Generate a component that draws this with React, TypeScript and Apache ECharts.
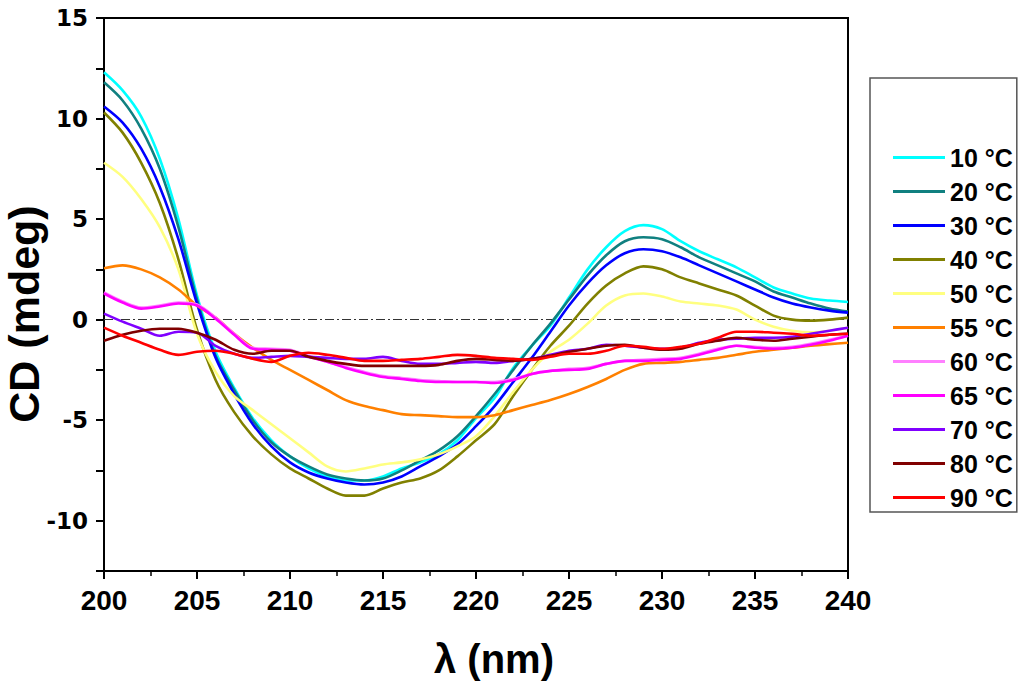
import React, { useEffect, useRef } from "react";
import * as echarts from "echarts";

const wavelengths = [200,201,202,203,204,205,206,207,208,209,210,211,212,213,214,215,216,217,218,219,220,221,222,223,224,225,226,227,228,229,230,231,232,233,234,235,236,237,238,239,240];

const seriesNames = ["10 °C","20 °C","30 °C","40 °C","50 °C","55 °C","60 °C","65 °C","70 °C","80 °C","90 °C"];
const seriesColors = ["#00FFFF","#108080","#0000FF","#808000","#FFFF80","#FF8000","#FF80FF","#FF00FF","#8000FF","#800000","#FF0000"];

const xTitle = "λ (nm)";
const yTitle = "CD (mdeg)";

const cd10 = [12.3,11.4,10.1,8.0,5.0,1.2,-1.6,-3.4,-4.9,-6.0,-6.8,-7.4,-7.8,-8.0,-8.0,-7.8,-7.4,-7.1,-6.7,-6.0,-4.9,-3.9,-2.4,-1.3,-0.3,1.1,2.5,3.6,4.4,4.7,4.5,3.9,3.4,3.0,2.6,2.1,1.6,1.3,1.05,0.95,0.88];
const cd20 = [11.8,10.9,9.5,7.5,4.6,1.0,-1.8,-3.5,-5.0,-6.1,-6.8,-7.3,-7.7,-7.9,-8.0,-7.9,-7.5,-7.0,-6.5,-5.8,-4.8,-3.7,-2.5,-1.3,-0.2,1.0,2.2,3.2,3.9,4.1,4.0,3.6,3.1,2.7,2.3,1.9,1.4,1.1,0.8,0.55,0.4];
const cd30 = [10.6,9.8,8.5,6.6,4.0,0.8,-1.9,-3.7,-5.2,-6.3,-7.1,-7.6,-7.9,-8.1,-8.2,-8.1,-7.8,-7.3,-6.8,-6.2,-5.3,-4.3,-3.1,-1.9,-0.6,0.7,1.8,2.7,3.3,3.5,3.4,3.1,2.7,2.3,1.9,1.5,1.1,0.8,0.6,0.45,0.35];
const cd40 = [10.3,9.3,7.8,5.8,3.0,-0.5,-3.0,-4.6,-5.8,-6.7,-7.4,-7.9,-8.4,-8.75,-8.75,-8.4,-8.1,-7.9,-7.5,-6.8,-6.0,-5.2,-3.8,-2.5,-1.3,-0.3,0.8,1.7,2.3,2.65,2.5,2.1,1.8,1.5,1.2,0.7,0.2,0.0,-0.05,0.0,0.1];
const cd50 = [7.8,7.1,6.0,4.6,2.5,-0.7,-2.6,-3.8,-4.5,-5.2,-5.9,-6.6,-7.3,-7.55,-7.4,-7.2,-7.1,-6.95,-6.7,-6.3,-5.8,-4.8,-3.6,-2.5,-1.6,-1.0,-0.2,0.7,1.2,1.3,1.15,0.9,0.8,0.7,0.5,0.0,-0.35,-0.55,-0.63,-0.55,-0.4];
const cd55 = [2.55,2.7,2.5,2.1,1.5,0.7,0.1,-0.7,-1.4,-2.0,-2.5,-3.0,-3.5,-4.0,-4.3,-4.5,-4.7,-4.75,-4.8,-4.85,-4.85,-4.75,-4.5,-4.25,-4.0,-3.7,-3.35,-2.95,-2.5,-2.2,-2.15,-2.1,-2.0,-1.9,-1.75,-1.6,-1.5,-1.4,-1.3,-1.22,-1.15];
const cd60 = [1.35,0.9,0.6,0.7,0.85,0.75,0.1,-0.7,-1.4,-1.45,-1.5,-1.8,-2.1,-2.35,-2.6,-2.8,-2.9,-3.0,-3.05,-3.1,-3.1,-3.1,-2.95,-2.7,-2.55,-2.45,-2.4,-2.2,-2.05,-2.0,-1.95,-1.9,-1.7,-1.45,-1.3,-1.35,-1.4,-1.35,-1.2,-1.0,-0.8];
const cd65 = [1.3,0.85,0.55,0.65,0.8,0.7,0.05,-0.75,-1.45,-1.5,-1.55,-1.85,-2.1,-2.4,-2.65,-2.85,-2.95,-3.05,-3.1,-3.1,-3.1,-3.15,-3.0,-2.7,-2.55,-2.5,-2.45,-2.2,-2.05,-2.05,-2.0,-1.95,-1.75,-1.5,-1.3,-1.4,-1.45,-1.4,-1.25,-1.05,-0.8];
const cd70 = [0.3,-0.1,-0.45,-0.8,-0.6,-0.65,-1.3,-1.7,-1.9,-1.85,-1.8,-1.85,-1.9,-1.95,-1.95,-1.85,-2.05,-2.2,-2.2,-2.15,-2.1,-2.15,-2.05,-1.95,-1.75,-1.55,-1.45,-1.25,-1.3,-1.4,-1.45,-1.4,-1.15,-1.0,-0.95,-0.9,-0.9,-0.85,-0.7,-0.55,-0.4];
const cd80 = [-1.05,-0.75,-0.55,-0.45,-0.45,-0.65,-1.0,-1.5,-1.7,-1.55,-1.55,-1.85,-2.05,-2.2,-2.3,-2.3,-2.3,-2.3,-2.25,-2.05,-1.95,-2.0,-2.05,-1.95,-1.8,-1.6,-1.45,-1.3,-1.25,-1.4,-1.5,-1.45,-1.2,-1.05,-0.9,-1.0,-1.05,-0.95,-0.85,-0.75,-0.7];
const cd90 = [-0.4,-0.8,-1.15,-1.5,-1.75,-1.6,-1.55,-1.7,-1.95,-2.1,-1.8,-1.65,-1.75,-1.9,-2.05,-2.05,-2.0,-1.95,-1.85,-1.75,-1.8,-1.9,-1.95,-2.0,-1.85,-1.7,-1.7,-1.55,-1.3,-1.35,-1.45,-1.35,-1.2,-0.9,-0.6,-0.6,-0.65,-0.7,-0.8,-0.75,-0.7];

const seriesValues = [cd10, cd20, cd30, cd40, cd50, cd55, cd60, cd65, cd70, cd80, cd90];

const FONT = "'Liberation Sans', Arial, sans-serif";
const WIDE_FONT = "'DejaVu Sans', 'Liberation Sans', sans-serif";

export default function App() {
  const ref = useRef<HTMLDivElement>(null);
  useEffect(() => {
    if (!ref.current) return;
    const chart = echarts.init(ref.current, null, { renderer: "svg" });
    const series: any[] = seriesValues.map((vals, si) => ({
      name: seriesNames[si],
      type: "line",
      data: wavelengths.map((w, i) => [w, vals[i]]),
      showSymbol: false,
      smooth: 0.3,
      lineStyle: { color: seriesColors[si], width: 2.6 },
      itemStyle: { color: seriesColors[si] },
      z: 3 + si,
    }));
    series[0].markLine = {
      silent: true,
      symbol: ["none", "none"],
      label: { show: false },
      lineStyle: { color: "#333", width: 1, type: [9, 3, 2, 3] },
      data: [{ yAxis: 0 }],
      z: 1,
    };
    chart.setOption({
      animation: false,
      backgroundColor: "#fff",
      grid: {
        left: 104,
        right: 176,
        top: 18,
        bottom: 115,
        outerBoundsMode: "none",
        containLabel: false,
        show: true,
        borderColor: "#000",
        borderWidth: 2,
        backgroundColor: "transparent",
      },
      legend: {
        orient: "vertical",
        left: 870,
        top: 78,
        padding: [67, 4, 2, 23],
        itemWidth: 52,
        itemHeight: 3,
        itemGap: 9,
        icon: "rect",
        borderColor: "#555",
        borderWidth: 1.5,
        textStyle: { fontFamily: FONT, fontWeight: "bold", fontSize: 25, color: "#000", lineHeight: 24 },
        data: seriesNames,
      },
      graphic: [
        {
          type: "text",
          x: 494,
          y: 659,
          style: {
            text: xTitle,
            fontFamily: FONT,
            fontWeight: "bold",
            fontSize: 40,
            fill: "#000",
            align: "center",
            verticalAlign: "middle",
          },
        },
        {
          type: "text",
          x: 24,
          y: 314,
          rotation: Math.PI / 2,
          style: {
            text: yTitle,
            fontFamily: FONT,
            fontWeight: "bold",
            fontSize: 43,
            fill: "#000",
            align: "center",
            verticalAlign: "middle",
          },
        },
      ],
      xAxis: {
        type: "value",
        min: 200,
        max: 240,
        interval: 5,
        axisLine: { show: true, onZero: false, lineStyle: { color: "#000", width: 2 } },
        axisTick: { show: true, length: 8, lineStyle: { color: "#000", width: 2 } },
        minorTick: { show: true, splitNumber: 2, length: 5, lineStyle: { color: "#000", width: 1.5 } },
        splitLine: { show: false },
        axisLabel: { fontFamily: FONT, fontWeight: "bold", fontSize: 28, color: "#000", margin: 15 },
      },
      yAxis: {
        type: "value",
        min: -12.5,
        max: 15,
        interval: 2.5,
        axisLine: { show: true, onZero: false, lineStyle: { color: "#000", width: 2 } },
        axisTick: { show: true, length: 8, lineStyle: { color: "#000", width: 2 } },
        splitLine: { show: false },
        axisLabel: {
          fontFamily: WIDE_FONT,
          fontWeight: "bold",
          fontSize: 23,
          color: "#000",
          margin: 16,
          formatter: (v: number) => (v % 5 === 0 ? String(v) : ""),
        },
      },
      series,
    });
    return () => chart.dispose();
  }, []);
  return (
    <div
      ref={ref}
      style={{ position: "fixed", left: 0, top: 0, width: 1024, height: 686, background: "#fff" }}
    />
  );
}
